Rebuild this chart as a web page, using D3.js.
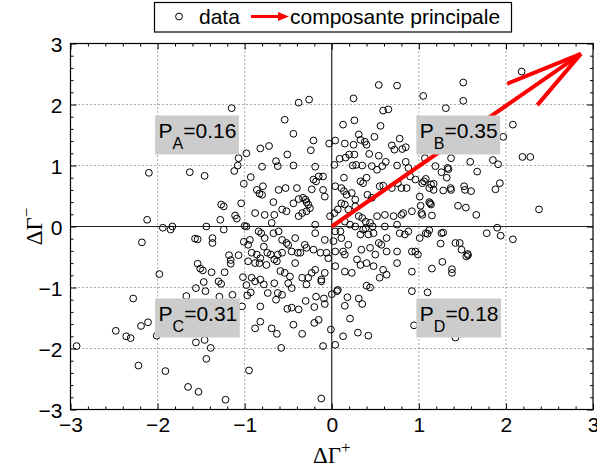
<!DOCTYPE html>
<html>
<head>
<meta charset="utf-8">
<script src="https://cdn.jsdelivr.net/npm/d3@7"></script>
<style>
  body { margin: 0; background: #fff; }
  text { font-family: "Liberation Sans", Arial, sans-serif; }
  text.serif { font-family: "Liberation Serif", "Times New Roman", serif; }
</style>
</head>
<body>
<svg id="chart" width="597" height="468"></svg>
<script>
// ---- data ----
const xTicks = [-3, -2, -1, 0, 1, 2, 3];
const yTicks = [-3, -2, -1, 0, 1, 2, 3];
const component = [2.86, 2.83]; // principal component (arrow tip)
const quadLabels = [
  { sub: "A", value: "0.16", x: -2, y: 1.5 },
  { sub: "B", value: "0.35", x: 1, y: 1.5 },
  { sub: "C", value: "0.31", x: -2, y: -1.5 },
  { sub: "D", value: "0.18", x: 1, y: -1.5 }
];

// scatter points, [dGamma+, dGamma-]
const ptsUpper = [
  [-1.15,1.94],[-1.07,1.12],
  [0.54,2.32],[0.75,2.31],[0.25,2.10],[-0.38,2.03],[-0.26,2.08],[0.59,1.90],[0.65,1.92],[-0.54,1.75],
  [0.13,1.67],[0.26,1.74],[0.56,1.65],[-0.44,1.52],[0.31,1.51],[-0.21,1.41],[0.04,1.41],[-0.03,1.36],
  [0.15,1.36],[0.25,1.34],[0.33,1.42],[0.38,1.39],[0.40,1.34],[0.49,1.47],[0.78,1.44],[0.69,1.33],
  [0.72,1.26],[0.81,1.27],[0.85,1.30],[0.43,1.19],[0.54,1.16],[0.26,1.18],[0.20,1.18],[0.16,1.13],
  [0.09,1.11],[-0.24,1.25],[-0.51,1.18],[-0.72,1.32],[-0.82,1.28],[-0.98,1.20],[-0.64,1.07],
  [0.62,1.06],[0.85,1.06],
  [2.18,2.54],[1.51,2.36],[1.05,2.14],[1.51,2.06],[1.31,1.94],[2.08,1.67],[1.97,1.47],[2.19,1.14],
  [2.28,1.14],[1.07,1.12],[1.37,1.12],[1.59,1.06],[1.85,1.09],[1.91,1.02],[1.19,0.99]
];
const ptsLeft = [
  [-2.10,0.88],[-1.63,0.89],[-1.46,0.83],[-1.12,0.91],[-1.08,1.00],[-1.01,0.70],[-2.12,0.11],[-1.27,0.36],
  [-1.24,0.33],[-1.04,0.38],[-1.11,0.18],[-1.09,0.13],[-1.28,0.11],[-1.94,-0.02],[-1.85,-0.05],[-1.83,0.0],
  [-1.44,0.0],[-1.24,-0.05],[-1.00,0.01],[-2.18,-0.26],[-1.57,-0.20],[-1.54,-0.21],[-1.37,-0.19],[-1.37,-0.27],
  [-1.01,-0.25],[-1.18,-0.47],[-1.16,-0.55],[-1.16,-0.61],[-1.07,-0.47],[-1.54,-0.61],[-1.51,-0.69],
  [-1.48,-0.72],[-1.38,-0.75],[-1.23,-0.75],[-1.98,-0.78],[-1.02,-0.83],[-1.47,-0.91],[-1.30,-0.90],
  [-1.27,-0.94],[-0.98,-0.96]
];
const ptsRight = [
  [1.26,0.89],[1.33,0.96],[1.34,0.94],[1.32,0.80],[1.67,0.90],
  [1.08,0.78],[1.06,0.74],[1.04,0.71],[1.14,0.69],[1.17,0.70],[1.12,0.63],[1.17,0.60],[1.28,0.59],
  [1.365,0.63],[1.37,0.60],[1.52,0.66],[1.53,0.60],[1.60,0.58],[1.93,0.71],[1.88,0.61],[1.01,0.49],
  [1.13,0.38],[1.14,0.36],[1.12,0.40],[1.02,0.34],[1.45,0.34],[1.54,0.31],[1.66,0.19],[1.03,0.22],
  [1.04,0.19],[1.15,0.18],[2.38,0.28],[1.90,-0.02],[1.78,-0.11],[1.94,-0.15],[2.08,-0.21],[1.12,-0.06],
  [1.08,-0.11],[1.10,-0.12],[1.01,-0.19],[1.26,-0.11],[1.28,-0.10],[1.25,-0.28],[1.42,-0.27],[1.47,-0.27],
  [1.49,-0.38],[1.56,-0.45],[1.545,-0.49],[1.565,-0.47],[1.27,-0.58],[1.15,-0.69],[1.38,-0.70],[1.38,-0.76]
];
const ptsLower = [
  [-2.28,-1.18],[-2.48,-1.71],[-2.36,-1.80],[-2.31,-1.83],[-2.19,-1.63],[-2.11,-1.57],[-2.01,-1.79],
  [-2.93,-1.96],[-2.22,-2.28],[-1.91,-2.37],[-1.65,-2.63],[-1.53,-2.71],[-1.22,-2.84],[-1.56,-1.01],
  [-1.45,-1.06],[-1.56,-1.90],[-1.46,-1.86],[-1.39,-1.99],[-1.44,-2.17],[-1.14,-1.12],[-1.03,-1.31],
  [-1.67,-1.14],[-1.29,-1.15],
  [-0.93,-1.08],[-0.97,-1.13],[-0.735,-1.09],[-0.62,-1.09],[-0.57,-1.12],[-0.46,-1.01],[-0.64,-1.20],
  [-0.82,-1.31],[-0.30,-1.22],[-0.18,-1.15],[-0.09,-1.18],[-0.08,-1.27],[-0.20,-1.32],[-0.51,-1.35],
  [-0.46,-1.33],[-0.38,-1.36],[0.0,-1.11],[0.06,-1.06],[0.07,-1.04],[0.18,-1.16],[0.15,-1.30],[0.31,-1.18],
  [0.35,-1.27],[0.40,-0.97],[0.44,-1.0],[0.92,-1.06],[-0.82,-1.56],[-0.88,-1.67],[-0.69,-1.67],[-0.63,-1.76],
  [-0.44,-1.61],[-0.34,-1.76],[-0.20,-1.58],[-0.15,-1.53],[-0.01,-1.69],[0.21,-1.51],[0.13,-1.80],
  [0.30,-1.74],[0.42,-1.79],[0.945,-1.62],[-0.58,-1.99],[-0.10,-1.96],[0.04,-1.94],[-0.95,-2.36],
  [-0.12,-2.82],[1.10,-1.08],[1.42,-1.82]
];
const ptsCenter = [
  [-0.93,0.81],[-0.80,0.98],[-0.62,0.99],[-0.44,1.00],[-0.19,0.98],[-0.15,0.82],[-0.10,0.82],[0.03,1.01],
  [0.14,0.80],[0.24,1.00],[0.28,1.01],[0.35,1.00],[0.46,0.99],[0.52,0.93],[0.58,0.99],[0.75,1.00],[0.88,0.96],
  [-0.86,0.60],[-0.83,0.54],[-0.80,0.52],[-0.79,0.66],[-0.61,0.60],[-0.53,0.63],[-0.40,0.63],[-0.38,0.45],
  [-0.33,0.47],[-0.30,0.44],[-0.29,0.40],[-0.27,0.36],[-0.23,0.61],[-0.21,0.77],[-0.18,0.74],[-0.10,0.60],
  [-0.08,0.49],[0.04,0.66],[0.11,0.63],[0.14,0.58],[0.17,0.52],[0.23,0.55],[0.27,0.44],[0.33,0.74],
  [0.36,0.71],[0.40,0.80],[0.41,0.52],[0.46,0.47],[0.55,0.66],[0.59,0.67],[0.69,0.63],[0.76,0.71],
  [0.80,0.63],[0.86,0.63],[0.90,0.82],[0.96,0.77],
  [-0.88,0.22],[-0.77,0.19],[-0.67,0.40],[-0.66,0.19],[-0.57,0.28],[-0.52,0.25],[-0.44,0.38],[-0.38,0.17],
  [-0.34,0.22],[-0.29,0.25],[-0.25,0.30],[-0.19,0.03],[-0.02,0.17],[0.03,0.22],[0.07,0.28],[0.11,0.38],
  [0.15,0.36],[0.19,0.28],[0.27,0.33],[0.31,0.17],[0.35,0.14],[0.39,0.08],[0.44,0.06],[0.47,0.0],
  [0.52,0.17],[0.61,0.19],[0.71,0.17],[0.80,0.19],[0.82,0.22],[0.92,0.25],
  [-0.98,0.0],[-0.84,-0.08],[-0.81,-0.11],[-0.77,-0.19],[-0.69,0.06],[-0.67,-0.11],[-0.61,-0.08],
  [-0.57,-0.22],[-0.52,-0.27],[-0.50,-0.30],[-0.42,-0.19],[-0.31,-0.30],[-0.19,-0.11],[-0.08,-0.22],
  [0.02,-0.24],[0.04,-0.08],[0.10,-0.08],[0.11,-0.19],[0.15,0.08],[0.21,0.03],[0.27,0.0],[0.33,-0.13],
  [0.36,-0.05],[0.39,-0.03],[0.42,-0.13],[0.48,-0.11],[0.54,-0.27],[0.61,0.0],[0.63,-0.19],[0.75,0.03],
  [0.78,-0.11],[0.84,-0.13],[0.88,-0.08],[0.92,-0.41],[0.96,-0.41],[0.99,-0.46],
  [-0.94,-0.22],[-0.96,-0.30],[-0.92,-0.43],[-0.86,-0.46],[-0.82,-0.52],[-0.78,-0.33],[-0.74,-0.43],
  [-0.70,-0.46],[-0.66,-0.54],[-0.62,-0.46],[-0.57,-0.43],[-0.46,-0.41],[-0.39,-0.43],[-0.36,-0.43],
  [-0.29,-0.35],[-0.21,-0.38],[-0.13,-0.43],[-0.06,-0.43],[-0.04,-0.52],[0.04,-0.41],[0.13,-0.41],
  [0.15,-0.46],[0.19,-0.30],[0.29,-0.54],[0.34,-0.38],[0.44,-0.35],[0.50,-0.46],[0.57,-0.30],[0.63,-0.41],
  [0.75,-0.41],
  [-0.96,-0.57],[-0.88,-0.60],[-0.83,-0.60],[-0.75,-0.63],[-0.63,-0.57],[-0.59,-0.73],[-0.54,-0.76],
  [-0.48,-0.82],[-0.42,-0.60],[-0.34,-0.84],[-0.27,-0.84],[-0.23,-0.76],[-0.19,-0.71],[-0.12,-0.87],
  [-0.08,-0.76],[0.04,-0.65],[0.15,-0.74],[0.23,-0.76],[0.33,-0.63],[0.40,-0.60],[0.48,-0.65],[0.55,-0.84],
  [0.59,-0.71],[0.63,-0.79],[0.75,-0.60],[0.92,-0.74],[-0.92,-0.84],[-0.88,-0.90],[-0.82,-0.87],
  [-0.78,-0.95],[-0.66,-0.93],[-0.50,-0.93],[-0.29,-0.95],[-0.12,-0.90]
];
const points = [].concat(ptsUpper, ptsLeft, ptsRight, ptsLower, ptsCenter);

// ---- layout ----
const svg = d3.select("#chart");
const pLeft = 70.5, pRight = 593, pTop = 43.5, pBottom = 409.5;
const x = d3.scaleLinear().domain([-3, 3]).range([pLeft, pRight]);
const y = d3.scaleLinear().domain([-3, 3]).range([pBottom, pTop]);
const minor = d3.range(-3, 3.001, 0.2).filter(v => Math.abs(v - Math.round(v)) > 0.01);
const fmt = d => d < 0 ? "\u2212" + Math.abs(d) : String(d);

// grid (dotted)
const gridVals = xTicks.filter(d => d !== 0 && Math.abs(d) < 3);
svg.append("g").selectAll("line").data(gridVals).enter().append("line")
  .attr("x1", d => x(d)).attr("x2", d => x(d)).attr("y1", pTop).attr("y2", pBottom)
  .attr("stroke", "#555").attr("stroke-width", 1).attr("stroke-dasharray", "1,3");
svg.append("g").selectAll("line").data(gridVals).enter().append("line")
  .attr("y1", d => y(d)).attr("y2", d => y(d)).attr("x1", pLeft).attr("x2", pRight)
  .attr("stroke", "#555").attr("stroke-width", 1).attr("stroke-dasharray", "1,3");

// zero lines
svg.append("line").attr("x1", x(0)).attr("x2", x(0)).attr("y1", pTop).attr("y2", pBottom)
  .attr("stroke", "#222").attr("stroke-width", 1.2);
svg.append("line").attr("x1", pLeft).attr("x2", pRight).attr("y1", y(0)).attr("y2", y(0))
  .attr("stroke", "#222").attr("stroke-width", 1.2);

// points
svg.append("g").selectAll("circle").data(points).enter().append("circle")
  .attr("cx", d => x(d[0])).attr("cy", d => y(d[1])).attr("r", 3.4)
  .attr("fill", "none").attr("stroke", "#000").attr("stroke-width", 1);

// principal component arrow (quiver style)
const u = component[0], v = component[1];
const a = 0.235, b = 0.26;
const barb1 = [u - a * (u + b * v), v - a * (v - b * u)];
const barb2 = [u - a * (u - b * v), v - a * (v + b * u)];
const arrow = svg.append("g").attr("stroke", "#ff0000").attr("stroke-width", 4)
  .attr("stroke-linecap", "butt").attr("fill", "none");
arrow.append("line").attr("x1", x(0)).attr("y1", y(0)).attr("x2", x(u)).attr("y2", y(v));
arrow.append("path").attr("d", d3.line()([[x(barb1[0]), y(barb1[1])], [x(u), y(v)], [x(barb2[0]), y(barb2[1])]]))
  .attr("stroke-linejoin", "miter");

// quadrant probability labels
quadLabels.forEach(q => {
  const g = svg.append("g");
  const t = g.append("text").attr("x", x(q.x) + 1).attr("y", y(q.y) + 3)
    .attr("font-size", 21).attr("fill", "#000");
  t.append("tspan").text("P");
  t.append("tspan").attr("font-size", 16).attr("dy", 11).text(q.sub);
  t.append("tspan").attr("dy", -11).text("=" + q.value);
  const bb = t.node().getBBox();
  g.insert("rect", "text")
    .attr("x", x(q.x) - 2.5).attr("y", y(q.y) - 19.5)
    .attr("width", bb.width + 6).attr("height", 39)
    .attr("fill", "#cccccc");
});

// axes box with inward ticks on four sides
const tickLen = 6, minorLen = 3;
const addAxis = (axisFn, scale, transform, vals, len, labels) => {
  const ax = axisFn(scale).tickValues(vals).tickSize(-len).tickPadding(labels ? 8 : 0)
    .tickFormat(labels ? fmt : "");
  const g = svg.append("g").attr("transform", transform).call(ax);
  g.select(".domain").remove();
  g.selectAll("line").attr("stroke", "#000");
  g.selectAll("text").attr("font-size", 21).attr("fill", "#000");
  return g;
};
addAxis(d3.axisBottom, x, `translate(0,${pBottom})`, xTicks, tickLen, true);
addAxis(d3.axisBottom, x, `translate(0,${pBottom})`, minor, minorLen, false);
addAxis(d3.axisTop, x, `translate(0,${pTop})`, xTicks, tickLen, false);
addAxis(d3.axisTop, x, `translate(0,${pTop})`, minor, minorLen, false);
const yl = addAxis(d3.axisLeft, y, `translate(${pLeft},0)`, yTicks, tickLen, true);
yl.selectAll("text").attr("dy", "0.36em");
addAxis(d3.axisLeft, y, `translate(${pLeft},0)`, minor, minorLen, false);
addAxis(d3.axisRight, y, `translate(${pRight},0)`, yTicks, tickLen, false);
addAxis(d3.axisRight, y, `translate(${pRight},0)`, minor, minorLen, false);
svg.append("rect").attr("x", pLeft).attr("y", pTop)
  .attr("width", pRight - pLeft).attr("height", pBottom - pTop)
  .attr("fill", "none").attr("stroke", "#000").attr("stroke-width", 1.2);

// axis titles (serif, like the TeX labels)
const xt = svg.append("text").attr("class", "serif").attr("x", x(0)).attr("y", 463)
  .attr("text-anchor", "middle").attr("font-size", 23);
xt.append("tspan").text("\u0394\u0393");
xt.append("tspan").attr("font-size", 17).attr("dy", -10).text("+");
const yt = svg.append("text").attr("class", "serif").attr("transform", `translate(42,${y(0)}) rotate(-90)`)
  .attr("text-anchor", "middle").attr("font-size", 23);
yt.append("tspan").text("\u0394\u0393");
yt.append("tspan").attr("font-size", 17).attr("dy", -10).text("\u2212");

// legend
const lg = svg.append("g");
lg.append("rect").attr("x", 154.5).attr("y", 2.5).attr("width", 357).attr("height", 29.5)
  .attr("fill", "#fff").attr("stroke", "#000").attr("stroke-width", 1.2);
lg.append("circle").attr("cx", 179).attr("cy", 16.5).attr("r", 3.4)
  .attr("fill", "none").attr("stroke", "#000");
lg.append("text").attr("x", 199).attr("y", 24).attr("font-size", 21).text("data");
lg.append("line").attr("x1", 251).attr("x2", 280).attr("y1", 16.5).attr("y2", 16.5)
  .attr("stroke", "#ff0000").attr("stroke-width", 3);
lg.append("path").attr("d", d3.line()([[278, 12], [289, 16.5], [278, 21]])).attr("fill", "#ff0000");
lg.append("text").attr("x", 290).attr("y", 24).attr("font-size", 21).text("composante principale");
</script>
</body>
</html>
